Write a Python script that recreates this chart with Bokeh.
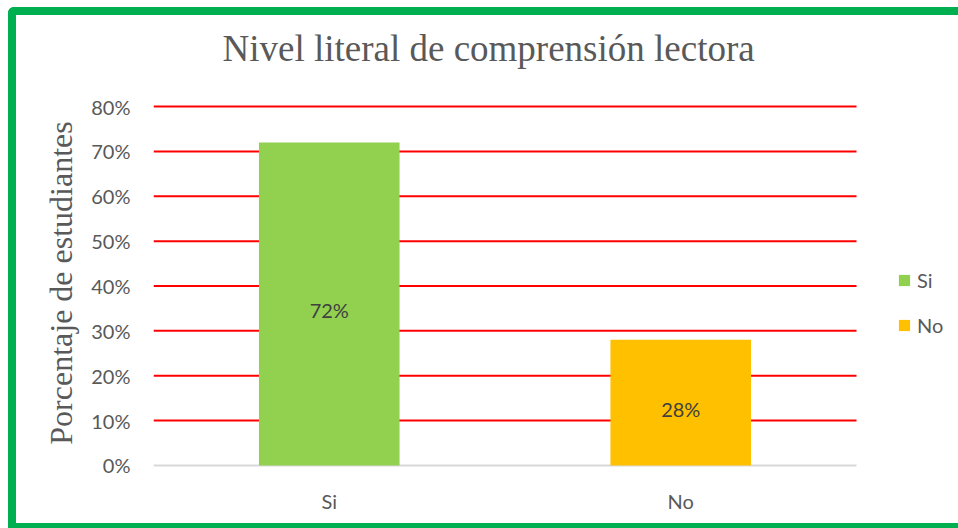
from bokeh.plotting import figure
from bokeh.models import (ColumnDataSource, Range1d, NumeralTickFormatter,
                          FixedTicker, Legend, LegendItem, LabelSet)
from bokeh.core.properties import value
from bokeh.embed import file_html
from bokeh.resources import INLINE

# ---- data ----
categories = ["Si", "No"]
values = [0.72, 0.28]
bar_colors = ["#92D050", "#FFC000"]
value_labels = ["72%", "28%"]
y_ticks = [0.0, 0.1, 0.2, 0.3, 0.4, 0.5, 0.6, 0.7, 0.8]

title_text = "Nivel literal de comprensión lectora"
y_label = "Porcentaje de estudiantes"

TICK_FONT = "Lato"
GRAY = "#595959"

# ---- layout (pixels) ----
n = len(categories)
xpos = [i + 0.5 for i in range(n)]          # category centres
PLOT_W = 703                                 # px covered by the categories
FRAME_W = 950 - 137 - 16                     # frame incl. legend area
x_end = n * FRAME_W / PLOT_W

PLOT_H = 358                                 # px from 0% to 80%
px_per_unit = PLOT_H / y_ticks[-1]
y_end = y_ticks[-1] + 28 / px_per_unit       # room above 80% up to the title
y_start = -22 / px_per_unit                  # room below 0% (centres axis label)

p = figure(x_range=Range1d(0, x_end),
           y_range=Range1d(y_start, y_end),
           width=950, height=521,
           output_backend="svg", toolbar_location=None,
           min_border_left=137, min_border_right=16,
           min_border_top=0, min_border_bottom=49,
           styles={"margin-left": "8px", "margin-top": "7px",
                   "border-left": "8px solid #00B050",
                   "border-top": "8px solid #00B050",
                   "border-bottom": "5px solid #00B050",
                   "border-top-left-radius": "6px"})
p.outline_line_color = None
p.xgrid.grid_line_color = None
p.ygrid.grid_line_color = None

# title
p.title.text = title_text
p.title.text_font = "Liberation Serif"
p.title.text_font_size = "37px"
p.title.text_font_style = "normal"
p.title.text_color = GRAY
p.title.align = "left"
p.title.offset = 69
p.title.standoff = 20

# gridlines limited to the category area
grid_y = y_ticks[1:]
p.segment(x0=[0] * len(grid_y), x1=[n] * len(grid_y), y0=grid_y, y1=grid_y,
          line_color="#FF0000", line_width=2, level="underlay")
p.segment(x0=[0], x1=[n], y0=[y_ticks[0]], y1=[y_ticks[0]],
          line_color="#D9D9D9", line_width=2, level="underlay")

src = ColumnDataSource(dict(x=xpos, val=values, color=bar_colors,
                            mid=[v / 2 for v in values], lab=value_labels))

renderers = []
for i in range(n):
    r = p.vbar(x=[xpos[i]], top=[values[i]], bottom=0, width=0.4,
               color=bar_colors[i], line_color=None)
    renderers.append(r)

labels = LabelSet(x="x", y="mid", text="lab", source=src,
                  text_align="center", text_baseline="middle",
                  text_font=value(TICK_FONT), text_font_size=value("20px"),
                  text_color="#404040", y_offset=-6)
p.add_layout(labels)

# y axis
p.yaxis.ticker = FixedTicker(ticks=y_ticks)
p.yaxis.formatter = NumeralTickFormatter(format="0%")
p.yaxis.axis_line_color = None
p.yaxis.major_tick_line_color = None
p.yaxis.minor_tick_line_color = None
p.yaxis.major_tick_out = 0
p.yaxis.major_label_standoff = 23
p.yaxis.major_label_text_font = TICK_FONT
p.yaxis.major_label_text_font_size = "20px"
p.yaxis.major_label_text_color = GRAY
p.yaxis.axis_label = y_label
p.yaxis.axis_label_text_font = "Liberation Serif"
p.yaxis.axis_label_text_font_size = "32px"
p.yaxis.axis_label_text_font_style = "normal"
p.yaxis.axis_label_text_color = GRAY
p.yaxis.axis_label_standoff = 9

# x axis
p.xaxis.ticker = FixedTicker(ticks=xpos)
p.xaxis.major_label_overrides = {x: c for x, c in zip(xpos, categories)}
p.xaxis.axis_line_color = None
p.xaxis.major_tick_line_color = None
p.xaxis.minor_tick_line_color = None
p.xaxis.major_tick_out = 0
p.xaxis.major_tick_in = 0
p.xaxis.major_label_standoff = 1
p.xaxis.major_label_text_font = TICK_FONT
p.xaxis.major_label_text_font_size = "20px"
p.xaxis.major_label_text_color = GRAY

# legend
legend = Legend(items=[LegendItem(label=categories[i], renderers=[renderers[i]])
                       for i in range(n)],
                location=(744, 150), orientation="vertical",
                glyph_width=14, glyph_height=14, label_standoff=6,
                label_text_font=TICK_FONT, label_text_font_size="20px",
                label_text_color=GRAY, label_height=24, spacing=21,
                padding=0, margin=0, border_line_color=None,
                background_fill_alpha=0)
p.add_layout(legend)

open("out.html", "w").write(file_html(p, INLINE))
